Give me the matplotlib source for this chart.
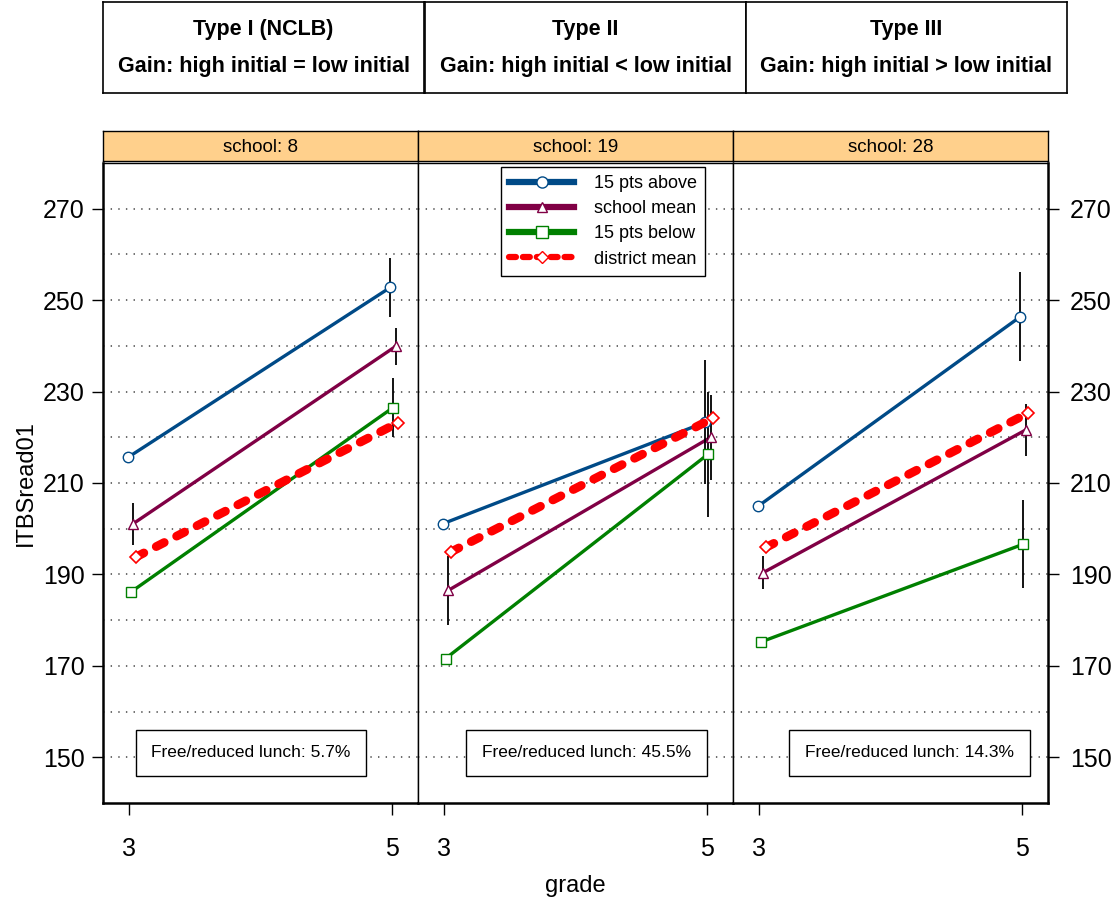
import matplotlib
matplotlib.use('Agg')
import matplotlib.pyplot as plt
from matplotlib.lines import Line2D

plt.rcParams['font.family'] = ['Liberation Sans', 'DejaVu Sans']
plt.rcParams['lines.scale_dashes'] = False

# data
grades = [3, 5]
schools = ['8', '19', '28']
headers = ['Type I (NCLB)', 'Type II', 'Type III']
subheaders = ['Gain: high initial = low initial',
              'Gain: high initial < low initial',
              'Gain: high initial > low initial']
lunch = ['5.7%', '45.5%', '14.3%']

above = [[215.6, 252.8], [201.1, 223.3], [204.9, 246.4]]
above_err = [[0, 6.5], [0, 13.6], [0, 9.7]]
school_mean = [[201.1, 239.9], [186.5, 220.0], [190.4, 221.6]]
mean_err = [[4.6, 4.1], [7.5, 9.3], [3.6, 5.7]]
below = [[186.1, 226.5], [171.6, 216.3], [175.2, 196.6]]
below_err = [[0, 6.5], [0, 13.7], [0, 9.6]]
district = [[193.8, 223.2], [194.9, 224.2], [195.9, 225.3]]

blue = '#004A87'
maroon = '#800045'
green = '#008000'
red = '#FF0000'

W, H = 1115, 902
fig = plt.figure(figsize=(W / 100, H / 100), dpi=100)


def fx(px):
    return px / W


def fy(py):
    return 1 - py / H


panel_left = [103, 418, 733]
panel_w = 315
box_x = [0.47, 0.535, 0.56]

axes = []
for i in range(3):
    ax = fig.add_axes([fx(panel_left[i]), fy(803), fx(panel_w), (803 - 163) / H])
    axes.append(ax)
    ax.set_xlim(2.8, 5.2)
    ax.set_ylim(140, 280)
    for y in range(150, 280, 10):
        ax.axhline(y, color='#444444', lw=1.1, ls=(0, (1, 4.5)), zorder=0)

    series = [
        (above[i], above_err[i], blue, 'o', -0.01),
        (school_mean[i], mean_err[i], maroon, '^', 0.03),
        (below[i], below_err[i], green, 's', 0.01),
    ]
    for vals, errs, col, mk, off in series:
        xs = [g + off for g in grades]
        ax.plot(xs, vals, color=col, lw=2.4, zorder=2)
        for x, v, e in zip(xs, vals, errs):
            if e > 0:
                ax.vlines(x, v - e, v + e, color='black', lw=1.3, zorder=3)
        ax.plot(xs, vals, ls='none', marker=mk, ms=7.5, mfc='white',
                mec=col, mew=1.0, zorder=4)
    xs = [g + 0.05 for g in grades]
    ax.plot(xs, district[i], color=red, lw=6.3, dashes=(6.5, 10),
            dash_capstyle='round', zorder=5)
    ax.plot(xs, district[i], ls='none', marker='D', ms=6, mfc='white',
            mec=red, mew=1.2, zorder=6)

    ax.text(box_x[i], 151, 'Free/reduced lunch: ' + lunch[i],
            transform=ax.get_yaxis_transform(), ha='center', va='center',
            fontsize=12.5,
            bbox=dict(boxstyle='square,pad=0.9', fc='white', ec='black', lw=1.0))

    ax.set_xticks(grades)
    ax.set_xticklabels(['3', '5'], fontsize=18)
    ax.tick_params(axis='x', direction='out', length=8.5, width=1, pad=16)
    ax.set_yticks(range(150, 280, 20))
    for s in ax.spines.values():
        s.set_linewidth(1.0)
    ax.spines['bottom'].set_linewidth(1.8)
    if i == 0:
        ax.tick_params(axis='y', direction='out', length=8, width=1, pad=5,
                       labelsize=18)
        ax.spines['left'].set_linewidth(1.8)
    elif i == 2:
        ax.yaxis.tick_right()
        ax.tick_params(axis='y', direction='out', length=8, width=1, pad=8,
                       labelsize=18)
        ax.spines['right'].set_linewidth(1.8)
    else:
        ax.tick_params(axis='y', length=0, labelleft=False)

    # strip
    st = fig.add_axes([fx(panel_left[i]), fy(161), fx(panel_w), 30 / H])
    st.set_facecolor('#FFD08C')
    st.set_xticks([])
    st.set_yticks([])
    for s in st.spines.values():
        s.set_linewidth(1.0)
    st.text(0.5, 0.45, 'school: ' + schools[i], ha='center', va='center',
            fontsize=13.5)

# header boxes
head_left = [103, 425, 746]
for i in range(3):
    hx = fig.add_axes([fx(head_left[i]), fy(93), fx(321), 91 / H])
    hx.set_xticks([])
    hx.set_yticks([])
    for s in hx.spines.values():
        s.set_linewidth(1.2)
    hx.text(0.5, 0.70, headers[i], ha='center', va='center', fontsize=15.5,
            fontweight='bold')
    hx.text(0.5, 0.29, subheaders[i], ha='center', va='center', fontsize=15.5,
            fontweight='bold')

fig.text(fx(26), fy(483), 'ITBSread01', rotation=90, ha='center', va='center',
         fontsize=17)
fig.text(fx(575), fy(886), 'grade', ha='center', va='center', fontsize=17)

handles = [
    Line2D([], [], color=blue, lw=4.5, marker='o', ms=8, mfc='white', mec=blue),
    Line2D([], [], color=maroon, lw=4.5, marker='^', ms=6.5, mfc='white', mec=maroon),
    Line2D([], [], color=green, lw=4.5, marker='s', ms=8, mfc='white', mec=green),
    Line2D([], [], color=red, lw=4.5, dashes=(5, 5), dash_capstyle='round',
           marker='D', ms=6, mfc='white', mec=red),
]
labels = ['15 pts above', 'school mean', '15 pts below', 'district mean']
leg = fig.legend(handles, labels, loc='upper left',
                 bbox_to_anchor=(fx(492), fy(158)), fontsize=13,
                 frameon=True, fancybox=False, framealpha=1, edgecolor='black',
                 handlelength=3.6, handletextpad=1.1, labelspacing=0.45,
                 borderpad=0.45, numpoints=1)
leg.get_frame().set_linewidth(1.0)
leg.set_zorder(10)

fig.savefig('out.png', dpi=100)
